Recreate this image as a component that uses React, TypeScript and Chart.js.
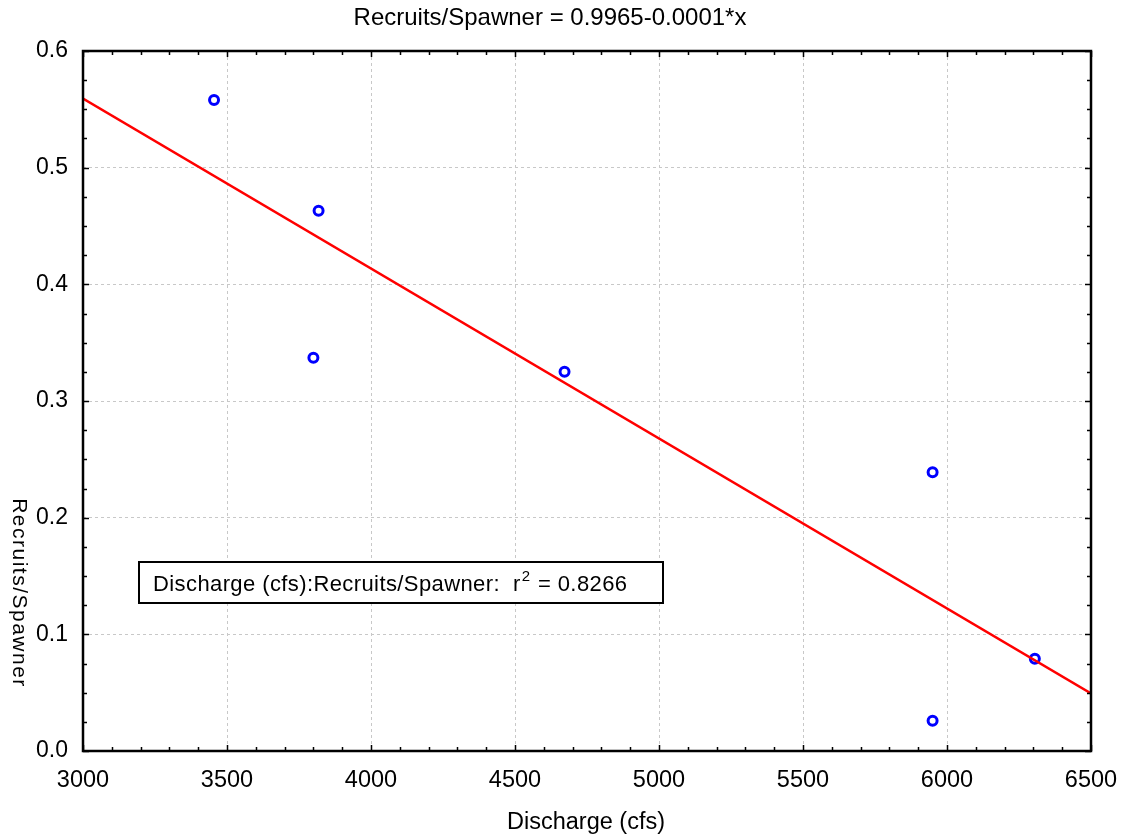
import React, { useEffect, useRef } from "react";
import { Chart, registerables } from "chart.js";

Chart.register(...registerables);

const titleText = "Recruits/Spawner = 0.9965-0.0001*x";
const xAxisTitle = "Discharge (cfs)";
const yAxisTitle = "Recruits/Spawner";

const dischargeCfs = [3455, 3818, 3800, 4672, 5950, 5950, 6305];
const recruitsPerSpawner = [0.558, 0.463, 0.337, 0.325, 0.239, 0.026, 0.079];

const fitX = [3000, 6500];
const fitY = [0.5593, 0.0493];

const xTicks = [3000, 3500, 4000, 4500, 5000, 5500, 6000, 6500];
const yTicks = [0.0, 0.1, 0.2, 0.3, 0.4, 0.5, 0.6];
const xMinorStep = 100;
const yMinorStep = 0.025;

const legendLead = "Discharge (cfs):Recruits/Spawner:  r";
const legendSup = "2";
const legendTail = " = 0.8266";

const FONT = "'Liberation Sans', Arial, sans-serif";

const framePlugin = {
  id: "framePlugin",
  afterDatasetsDraw(chart: any) {
    const { ctx, chartArea: a, scales } = chart;
    const xs = scales.x;
    const ys = scales.y;
    ctx.save();
    ctx.strokeStyle = "#000";
    ctx.lineWidth = 1.5;
    const xMin = xTicks[0];
    const xMax = xTicks[xTicks.length - 1];
    const nX = Math.round((xMax - xMin) / xMinorStep);
    for (let i = 0; i <= nX; i++) {
      const v = xMin + i * xMinorStep;
      const px = Math.round(xs.getPixelForValue(v)) + 0.5;
      const major = xTicks.indexOf(v) >= 0;
      const len = major ? 6 : 4;
      ctx.beginPath();
      ctx.moveTo(px, a.bottom);
      ctx.lineTo(px, a.bottom - len);
      ctx.moveTo(px, a.top);
      ctx.lineTo(px, a.top + len);
      ctx.stroke();
    }
    const yMin = yTicks[0];
    const yMax = yTicks[yTicks.length - 1];
    const nY = Math.round((yMax - yMin) / yMinorStep);
    for (let i = 0; i <= nY; i++) {
      const v = yMin + i * yMinorStep;
      const py = Math.round(ys.getPixelForValue(v)) + 0.5;
      const major = i % 4 === 0;
      const len = major ? 6 : 4;
      ctx.beginPath();
      ctx.moveTo(a.left, py);
      ctx.lineTo(a.left + len, py);
      ctx.moveTo(a.right, py);
      ctx.lineTo(a.right - len, py);
      ctx.stroke();
    }
    ctx.lineWidth = 2.5;
    ctx.strokeRect(a.left, a.top, a.right - a.left, a.bottom - a.top);
    ctx.restore();
  },
  afterDraw(chart: any) {
    const { ctx, chartArea: a } = chart;
    ctx.save();
    ctx.fillStyle = "#000";
    ctx.font = `24px ${FONT}`;
    ctx.textAlign = "center";
    ctx.textBaseline = "middle";
    ctx.fillText(titleText, 550, 18);

    ctx.font = `23.5px ${FONT}`;
    ctx.fillText(xAxisTitle, 586, 823);

    ctx.save();
    ctx.translate(19, 593);
    ctx.rotate(Math.PI / 2);
    ctx.font = `21px ${FONT}`;
    (ctx as any).letterSpacing = "1.5px";
    ctx.fillText(yAxisTitle, 0, 0);
    ctx.restore();

    const bx = a.left + 56;
    const by = 562;
    const bw = 524;
    const bh = 41;
    ctx.fillStyle = "#fff";
    ctx.fillRect(bx, by, bw, bh);
    ctx.strokeStyle = "#000";
    ctx.lineWidth = 2;
    ctx.strokeRect(bx, by, bw, bh);
    ctx.fillStyle = "#000";
    ctx.textAlign = "left";
    ctx.textBaseline = "alphabetic";
    ctx.font = `22px ${FONT}`;
    (ctx as any).letterSpacing = "0.4px";
    let tx = bx + 14;
    const base = by + 29;
    ctx.fillText(legendLead, tx, base);
    tx += ctx.measureText(legendLead).width;
    ctx.font = `15px ${FONT}`;
    ctx.fillText(legendSup, tx + 1, base - 10);
    tx += ctx.measureText(legendSup).width + 2;
    ctx.font = `22px ${FONT}`;
    ctx.fillText(legendTail, tx, base);
    ctx.restore();
  },
};

export default function App() {
  const ref = useRef<HTMLCanvasElement | null>(null);

  useEffect(() => {
    if (!ref.current) return;
    const chart = new Chart(ref.current, {
      type: "scatter",
      data: {
        datasets: [
          {
            type: "line",
            label: "fit",
            data: fitX.map((x, i) => ({ x, y: fitY[i] })),
            borderColor: "#ff0000",
            borderWidth: 2.5,
            pointRadius: 0,
            fill: false,
            tension: 0,
          } as any,
          {
            label: "points",
            data: dischargeCfs.map((x, i) => ({ x, y: recruitsPerSpawner[i] })),
            pointStyle: "circle",
            pointRadius: 4.5,
            pointBorderWidth: 3,
            pointBorderColor: "#0000ff",
            pointBackgroundColor: "#ffffff",
            borderColor: "#0000ff",
            backgroundColor: "#ffffff",
          },
        ],
      },
      plugins: [framePlugin],
      options: {
        animation: false,
        responsive: false,
        maintainAspectRatio: false,
        layout: { padding: { left: 0, top: 51, right: 32, bottom: 0 } },
        plugins: {
          legend: { display: false },
          title: { display: false },
          tooltip: { enabled: false },
        },
        scales: {
          x: {
            type: "linear",
            min: xTicks[0],
            max: xTicks[xTicks.length - 1],
            afterBuildTicks: (s: any) => {
              s.ticks = xTicks.map((v) => ({ value: v }));
            },
            afterFit: (s: any) => {
              s.height = 86;
              s.paddingLeft = 0;
              s.paddingRight = 0;
            },
            ticks: {
              color: "#000",
              font: { family: FONT, size: 23.5 },
              padding: 15,
              maxRotation: 0,
              callback: (v: any) => String(v),
            },
            grid: { color: "#c8c8c8", lineWidth: 1, drawTicks: false },
            border: { display: false, dash: [3, 3] },
          },
          y: {
            type: "linear",
            min: yTicks[0],
            max: yTicks[yTicks.length - 1],
            afterBuildTicks: (s: any) => {
              s.ticks = yTicks.map((v) => ({ value: v }));
            },
            afterFit: (s: any) => {
              s.width = 83;
              s.paddingTop = 0;
              s.paddingBottom = 0;
            },
            ticks: {
              color: "#000",
              font: { family: FONT, size: 23 },
              padding: 15,
              callback: (v: any) => Number(v).toFixed(1),
            },
            grid: { color: "#c8c8c8", lineWidth: 1, drawTicks: false },
            border: { display: false, dash: [3, 3] },
          },
        },
      },
    });
    return () => chart.destroy();
  }, []);

  return (
    <div style={{ position: "fixed", left: 0, top: 0, width: 1123, height: 837, background: "#fff" }}>
      <canvas ref={ref} width={1123} height={837} style={{ display: "block" }} />
    </div>
  );
}
